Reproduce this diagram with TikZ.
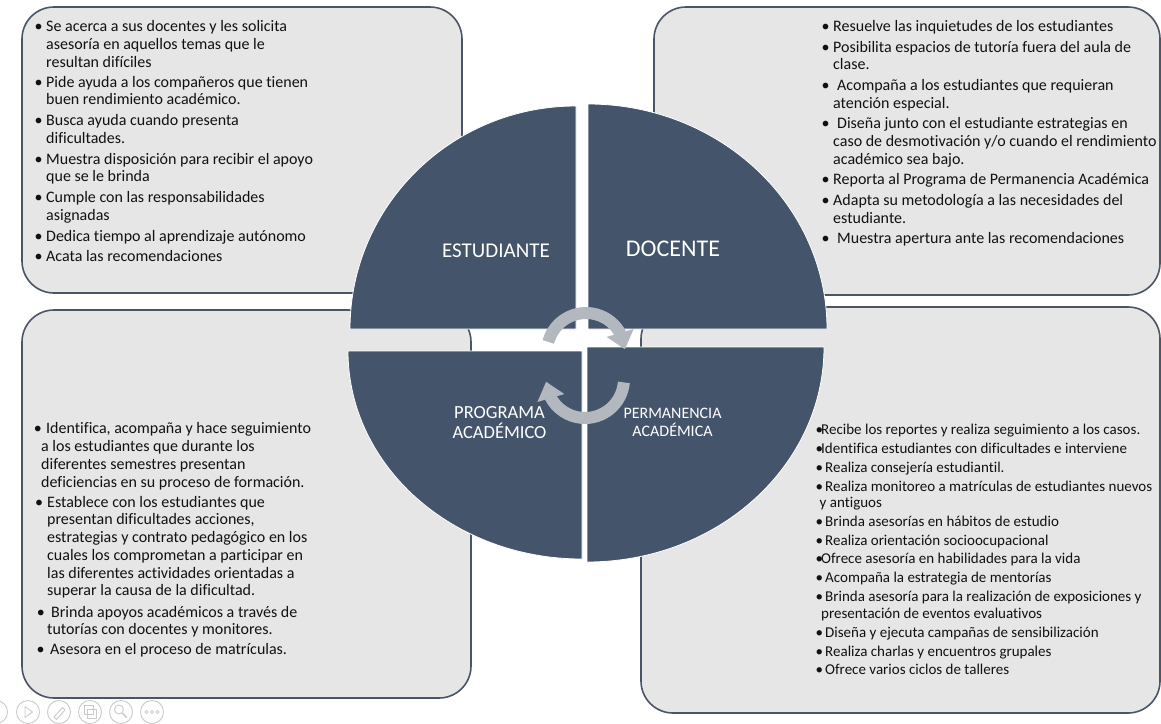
\documentclass[tikz,border=0pt]{standalone}
\usepackage{fontspec}
\setmainfont{Carlito}[Ligatures={NoCommon}]
\usetikzlibrary{arrows.meta,bending}
\definecolor{slate}{HTML}{44546A}
\definecolor{boxfill}{HTML}{E7E6E6}
\definecolor{boxline}{HTML}{4A5568}
\definecolor{arrowgray}{HTML}{B3B7BE}
\definecolor{icongray}{HTML}{CBCBCB}
\definecolor{bodyink}{HTML}{111111}
\newcommand{\bu}[1]{\llap{\makebox[#1][l]{•}}}
\begin{document}
\begin{tikzpicture}[x=1pt,y=1pt,
  infobox/.style={draw=boxline, line width=1.6pt, fill=boxfill, rounded corners=32pt},
  sector/.style={fill=slate, draw=white, line width=0.8pt},
  bodytext/.style={anchor=base west, inner sep=0pt, text=bodyink, font=\fontsize{16}{18}\selectfont},
  smalltext/.style={bodytext, font=\fontsize{15}{17}\selectfont},
  title/.style={text=white, inner sep=0pt, align=center},
  cyclearrow/.style={draw=arrowgray, line width=12pt, -{Triangle[length=17pt,width=27pt]}},
  icon/.style={draw=icongray, line width=0.9pt}
]
\useasboundingbox (0,0) rectangle (1161,-723);
\fill[white] (0,0) rectangle (1161,-723);

% boxes
\path[infobox] (22,-7) rectangle (462,-293);
\path[infobox] (654,-7) rectangle (1160,-295);
\path[infobox] (22,-310) rectangle (471,-698);
\path[infobox] (641,-307) rectangle (1160,-713);

% sectors
\path[sector] (576,-329) -- (350,-329) arc[start angle=180, end angle=90, x radius=226, y radius=223] -- cycle;
\path[sector] (588,-329) -- (588,-104) arc[start angle=90, end angle=0, x radius=239, y radius=225] -- cycle;
\path[sector] (582,-351) -- (348,-351) arc[start angle=180, end angle=270, x radius=234, y radius=208] -- cycle;
\path[sector] (587,-347) -- (824,-347) arc[start angle=0, end angle=-90, x radius=237, y radius=215] -- cycle;

% titles
\node[title, font=\fontsize{21}{25}\selectfont] (estudiante) at (496,-250.5) {ESTUDIANTE};
\node[title, font=\fontsize{24}{28}\selectfont] (docente) at (673,-249) {DOCENTE};
\node[title, font=\fontsize{18.5}{20}\selectfont] (programa) at (499.5,-423) {PROGRAMA\\ACADÉMICO};
\node[title, font=\fontsize{16}{18}\selectfont] (permanencia) at (672.5,-422) {PERMANENCIA\\ACADÉMICA};

% cycle arrows
\coordinate (topc) at (586,-352);
\coordinate (botc) at (585,-379);
\draw[cyclearrow] ([shift={(165:39)}]topc) arc[start angle=165, end angle=4, radius=39];
\draw[cyclearrow] ([shift={(-5:39)}]botc) arc[start angle=-5, end angle=-176, radius=39];

% top-left text
\foreach \yy/\xx/\tx [count=\i] in {
 31/46/{\bu{11.5pt}Se acerca a sus docentes y les solicita},
 49/46/{asesoría en aquellos temas que le},
 67/46/{resultan difíciles},
 87/46/{\bu{11.5pt}Pide ayuda a los compañeros que tienen},
 104.5/46/{buen rendimiento académico.},
 125.5/46/{\bu{11.5pt}Busca ayuda cuando presenta},
 143.5/46/{dificultades.},
 164/46/{\bu{11.5pt}Muestra disposición para recibir el apoyo},
 181/46/{que se le brinda},
 202/46/{\bu{11.5pt}Cumple con las responsabilidades},
 220/46/{asignadas},
 241/46/{\bu{11.5pt}Dedica tiempo al aprendizaje autónomo},
 261/46/{\bu{11.5pt}Acata las recomendaciones}}
 {\node[bodytext] (tl\i) at (\xx,-\yy) {\tx};}

% top-right text
\foreach \yy/\xx/\tx [count=\i] in {
 31/833/{\bu{11.5pt}Resuelve las inquietudes de los estudiantes},
 52/833/{\bu{11.5pt}Posibilita espacios de tutoría fuera del aula de},
 69.5/833/{clase.},
 90.5/837/{\bu{15.5pt}Acompaña a los estudiantes que requieran},
 108.5/833/{atención especial.},
 128.5/837/{\bu{15.5pt}Diseña junto con el estudiante estrategias en},
 146/833/{caso de desmotivación y/o cuando el rendimiento},
 164/833/{académico sea bajo.},
 184.5/833/{\bu{11.5pt}Reporta al Programa de Permanencia Académica},
 205/833/{\bu{11.5pt}Adapta su metodología a las necesidades del},
 223.5/833/{estudiante.},
 243.5/837/{\bu{15.5pt}Muestra apertura ante las recomendaciones}}
 {\node[bodytext] (tr\i) at (\xx,-\yy) {\tx};}

% bottom-left text
\foreach \yy/\xx/\tx [count=\i] in {
 433.5/46/{\bu{12.4pt}Identifica, acompaña y hace seguimiento},
 451/41/{a los estudiantes que durante los},
 469/41/{diferentes semestres presentan},
 487/41/{deficiencias en su proceso de formación.},
 507/47/{\bu{12.1pt}Establece con los estudiantes que},
 524.5/47/{presentan dificultades acciones,},
 542/47/{estrategias y contrato pedagógico en los},
 560/47/{cuales los comprometan a participar en},
 578/47/{las diferentes actividades orientadas a},
 595.5/47/{superar la causa de la dificultad.},
 617/51/{\bu{14.4pt}Brinda apoyos académicos a través de},
 634.5/47/{tutorías con docentes y monitores.},
 654.5/50/{\bu{13.7pt}Asesora en el proceso de matrículas.}}
 {\node[bodytext] (bl\i) at (\xx,-\yy) {\tx};}

% bottom-right text
\foreach \yy/\xx/\tx [count=\i] in {
 434/821/{\bu{5.7pt}Recibe los reportes y realiza seguimiento a los casos.},
 453/821/{\bu{5.7pt}Identifica estudiantes con dificultades e interviene},
 472/825/{\bu{9.6pt}Realiza consejería estudiantil.},
 491/825/{\bu{9.6pt}Realiza monitoreo a matrículas de estudiantes nuevos},
 507.5/819.5/{y antiguos},
 526/825/{\bu{9.6pt}Brinda asesorías en hábitos de estudio},
 545/825/{\bu{9.6pt}Realiza orientación socioocupacional},
 563.5/821/{\bu{5.7pt}Ofrece asesoría en habilidades para la vida},
 582.5/825/{\bu{9.6pt}Acompaña la estrategia de mentorías},
 601/825/{\bu{9.6pt}Brinda asesoría para la realización de exposiciones y},
 618/821/{presentación de eventos evaluativos},
 637/825/{\bu{9.6pt}Diseña y ejecuta campañas de sensibilización},
 656/825/{\bu{9.6pt}Realiza charlas y encuentros grupales},
 674/825/{\bu{9.6pt}Ofrece varios ciclos de talleres}}
 {\node[smalltext] (br\i) at (\xx,-\yy) {\tx};}

% slideshow controls
\foreach \cx in {-4,28,59,90,121,152}{\draw[icon] (\cx,-712) circle[radius=11.5];}
\draw[icon, line join=round] (25,-706.5) -- (25,-717.5) -- (32.5,-712) -- cycle;
\draw[icon, line join=round] (54,-717) -- (62.5,-707.5) -- (65,-710) -- (56.5,-719.5) -- cycle;
\draw[icon] (84.5,-705.5) rectangle (93,-714.5);
\draw[icon] (87.5,-709.5) rectangle (96,-718.5);
\draw[icon] (119,-709.5) circle[radius=4.5];
\draw[icon, line width=1.6pt] (122.3,-713) -- (126.5,-717.5);
\foreach \dx in {146.5,152,157.5}{\draw[icon, line width=0.7pt] (\dx,-712) circle[radius=1.6];}
\end{tikzpicture}
\end{document}
